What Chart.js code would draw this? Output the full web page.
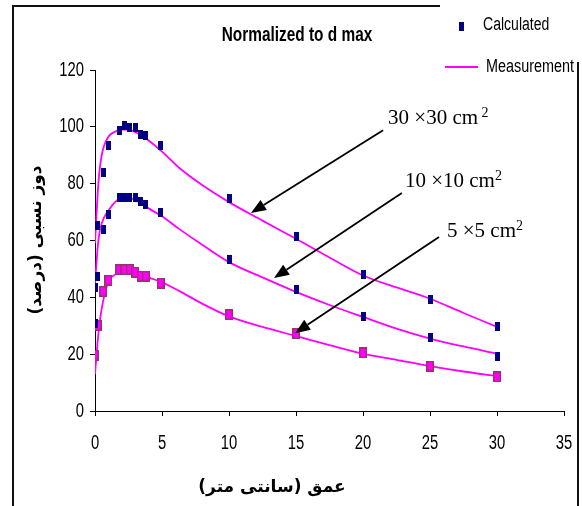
<!DOCTYPE html>
<html lang="fa">
<head>
  <meta charset="UTF-8">
  <title>Normalized to d max</title>
  <script src="https://cdn.jsdelivr.net/npm/chart.js"></script>
  <style>
    body { margin: 0; background: #fff; }
    #wrap { width: 582px; height: 506px; }
  </style>
</head>
<body>
<div id="wrap"><canvas id="chart" width="582" height="506"></canvas></div>
<script>
  // depth (cm) of the calculated points
  const depthCalc = [0, 0.2, 0.6, 1, 1.8, 2.2, 2.6, 3, 3.4, 3.8, 4.9, 10, 15, 20, 25, 30];
  const calc30 = [43.6, 65.3, 84, 93.6, 98.8, 100.3, 99.8, 99.8, 97.2, 96.8, 93.6, 74.9, 61.5, 48.1, 39.2, 29.6];
  const calc10 = [30.8, 47.5, 63.7, 69, 75, 75, 75, 75, 73.8, 72.6, 69.7, 53.3, 42.8, 33.3, 25.7, 19.1];
  const calc5  = [19.6, 30.2, 42.1, 46, 49.7, 49.7, 49.7, 48.9, 47.5, 47.5, 45, 33.9, 27.3, 20.5, 15.8, 12];

  // measured curves
  const depthMeas = [0, 0.25, 0.5, 1, 1.5, 2, 2.5, 3, 4, 5, 6.3, 8, 10, 12.5, 15, 17.5, 20, 22.5, 25, 27.5, 30];
  const meas30 = [59, 80, 90, 96.5, 98.3, 99, 99, 98.2, 95.2, 91.3, 85.5, 79.5, 73.5, 67, 60.6, 54, 47.7, 43.5, 39.5, 34.5, 29.6];
  const meas10 = [45, 60, 66, 70.5, 73.5, 75, 75, 74.3, 71.3, 68.5, 64, 58.5, 52.4, 47, 41.9, 37.3, 33.1, 29, 25.5, 22.7, 20.2];
  const meas5  = [13, 27, 36, 45.5, 48, 49.5, 49.5, 49, 47, 45.3, 42.2, 37.8, 33.3, 29.6, 26.4, 23.2, 20.2, 18, 15.8, 13.9, 12.3];

  const xTicks = [0, 5, 10, 15, 20, 25, 30, 35];
  const yTicks = [0, 20, 40, 60, 80, 100, 120];

  // field size labels: text, label anchor [depth, dose], arrow start, arrow tip
  const fieldLabels = [
    { text: '30 \u00d730 cm', sup: ' 2', at: [21.87, 101], from: [21.5, 98.8], to: [11.64, 69.7] },
    { text: '10 \u00d710 cm', sup: '2',  at: [23.13, 78.8], from: [22.9, 76.7], to: [13.36, 46.8] },
    { text: '5 \u00d75 cm',   sup: '2',  at: [26.27, 61.2], from: [25.67, 61.2], to: [14.93, 27.4] }
  ];

  const SANS = "'Liberation Sans', Arial, sans-serif";
  const SERIF = "'Liberation Serif', 'Times New Roman', serif";
  const NAVY = '#000080';
  const MAGENTA = '#FF00FF';

  function rectImg(w, h, fill, stroke) {
    const c = document.createElement('canvas');
    c.width = w; c.height = h;
    const g = c.getContext('2d');
    g.fillStyle = fill;
    g.fillRect(0, 0, w, h);
    if (stroke) {
      g.strokeStyle = stroke;
      g.lineWidth = 1.4;
      g.strokeRect(0.7, 0.7, w - 1.4, h - 1.4);
    }
    return c;
  }
  const navyMark = rectImg(5, 9, NAVY);
  const pinkMark = rectImg(8, 11, MAGENTA, '#993366');

  const pts = (xs, ys) => xs.map((x, i) => ({ x: x, y: ys[i] }));

  function calcSet(label, ys, img) {
    return { label: label, data: pts(depthCalc, ys), showLine: false,
             pointStyle: img, pointRadius: 5, pointHoverRadius: 5 };
  }
  function measSet(label, ys) {
    return { label: label, data: pts(depthMeas, ys), showLine: true,
             borderColor: MAGENTA, borderWidth: 1.8, pointRadius: 0,
             cubicInterpolationMode: 'monotone' };
  }

  // condensed text (the original uses a narrow face)
  function narrow(ctx, text, x, y, font, align, sx) {
    ctx.save();
    ctx.font = font;
    ctx.textAlign = align;
    ctx.textBaseline = 'middle';
    ctx.translate(x, y);
    ctx.scale(sx, 1);
    ctx.fillText(text, 0, 0);
    ctx.restore();
  }

  function arrow(ctx, x1, y1, x2, y2) {
    const a = Math.atan2(y2 - y1, x2 - x1);
    const len = 15, half = 6;
    const bx = x2 - len * Math.cos(a), by = y2 - len * Math.sin(a);
    ctx.beginPath();
    ctx.moveTo(x1, y1);
    ctx.lineTo(bx, by);
    ctx.stroke();
    ctx.beginPath();
    ctx.moveTo(x2, y2);
    ctx.lineTo(bx + half * Math.sin(a), by - half * Math.cos(a));
    ctx.lineTo(bx - half * Math.sin(a), by + half * Math.cos(a));
    ctx.closePath();
    ctx.fill();
  }

  const decor = {
    id: 'decor',
    afterDraw(chart) {
      const ctx = chart.ctx;
      const sx = chart.scales.x, sy = chart.scales.y;
      ctx.save();
      ctx.fillStyle = '#000';

      // tick labels
      sx.ticks.forEach(t => narrow(ctx, String(t.value), sx.getPixelForValue(t.value), 443, '20px ' + SANS, 'center', 0.74));
      sy.ticks.forEach(t => narrow(ctx, String(t.value), 84, sy.getPixelForValue(t.value), '20px ' + SANS, 'right', 0.74));

      // outer frame (top right corner covered by legend)
      ctx.strokeStyle = '#111';
      ctx.lineWidth = 2;
      ctx.beginPath();
      ctx.moveTo(440, 6); ctx.lineTo(13, 6); ctx.lineTo(13, 506);
      ctx.moveTo(578, 62); ctx.lineTo(578, 506);
      ctx.stroke();

      // title
      narrow(ctx, 'Normalized to d max', 297, 35, 'bold 20px ' + SANS, 'center', 0.77);

      // legend
      ctx.drawImage(navyMark, 459, 22);
      ctx.strokeStyle = MAGENTA;
      ctx.lineWidth = 1.8;
      ctx.beginPath(); ctx.moveTo(445, 67); ctx.lineTo(478, 67); ctx.stroke();
      narrow(ctx, 'Calculated', 483, 25, '18px ' + SANS, 'left', 0.78);
      narrow(ctx, 'Measurement', 486, 67, '18px ' + SANS, 'left', 0.8);

      // axis titles
      ctx.font = 'bold 17px "DejaVu Sans", sans-serif';
      ctx.direction = 'rtl';
      ctx.textAlign = 'center';
      ctx.textBaseline = 'middle';
      ctx.fillText('عمق (سانتی متر)', 272, 488);
      ctx.save();
      ctx.translate(37, 240);
      ctx.rotate(-Math.PI / 2);
      ctx.fillText('دوز نسبی (درصد)', 0, 0);
      ctx.restore();
      ctx.direction = 'ltr';

      // field size labels and arrows
      ctx.strokeStyle = '#000';
      ctx.lineWidth = 1.8;
      fieldLabels.forEach(f => {
        const lx = sx.getPixelForValue(f.at[0]), ly = sy.getPixelForValue(f.at[1]);
        ctx.font = '21px ' + SERIF;
        ctx.textAlign = 'left';
        ctx.textBaseline = 'alphabetic';
        ctx.fillText(f.text, lx, ly);
        const w = ctx.measureText(f.text).width;
        ctx.font = '14px ' + SERIF;
        ctx.fillText(f.sup, lx + w, ly - 7);
        arrow(ctx, sx.getPixelForValue(f.from[0]), sy.getPixelForValue(f.from[1]),
                   sx.getPixelForValue(f.to[0]), sy.getPixelForValue(f.to[1]));
      });
      ctx.restore();
    }
  };

  new Chart(document.getElementById('chart'), {
    type: 'scatter',
    data: {
      datasets: [
        calcSet('Calculated', calc30, navyMark),
        calcSet('Calculated 10', calc10, navyMark),
        calcSet('Calculated 5', calc5, pinkMark),
        measSet('Measurement', meas30),
        measSet('Measurement 10', meas10),
        measSet('Measurement 5', meas5)
      ]
    },
    options: {
      responsive: false,
      animation: false,
      layout: { padding: { top: 70, right: 18, left: 0, bottom: 0 } },
      plugins: { legend: { display: false }, title: { display: false }, tooltip: { enabled: false } },
      scales: {
        x: {
          type: 'linear', min: 0, max: 35,
          afterFit(s) { s.height = 95; },
          afterBuildTicks(s) { s.ticks = xTicks.map(v => ({ value: v })); },
          ticks: { display: false },
          grid: { drawOnChartArea: false, tickLength: 5, tickColor: '#000' },
          border: { color: '#000', width: 1 }
        },
        y: {
          type: 'linear', min: 0, max: 120,
          afterFit(s) { s.width = 95; },
          afterBuildTicks(s) { s.ticks = yTicks.map(v => ({ value: v })); },
          ticks: { display: false },
          grid: { drawOnChartArea: false, tickLength: 5, tickColor: '#000' },
          border: { color: '#000', width: 1 }
        }
      }
    },
    plugins: [decor]
  });
</script>
</body>
</html>
